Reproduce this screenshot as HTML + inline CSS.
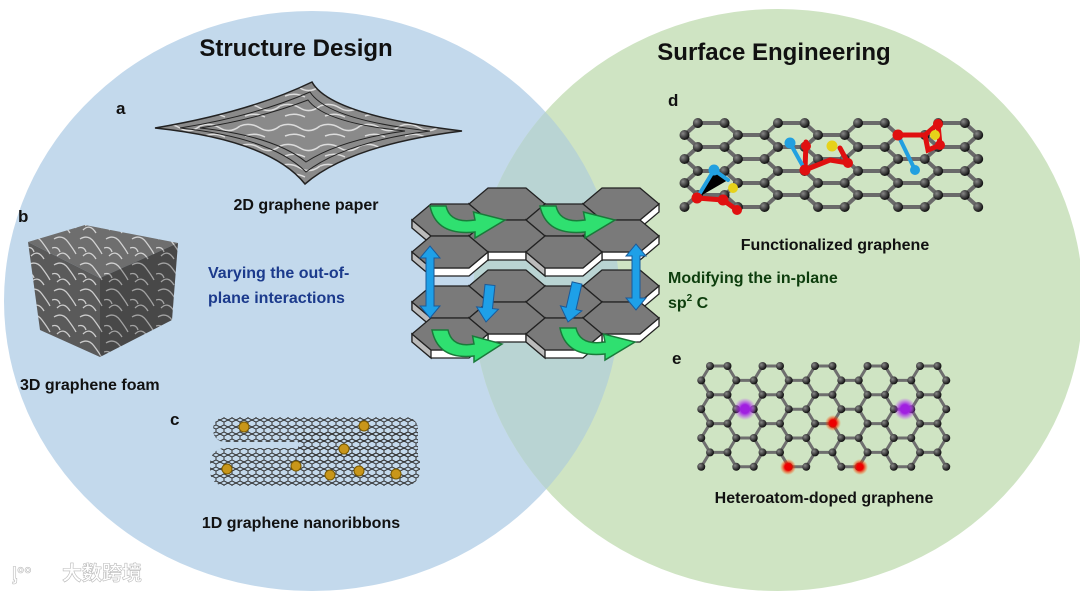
<!DOCTYPE html>
<html><head><meta charset="utf-8"><style>
html,body{margin:0;padding:0;background:#fff}
svg{display:block}
text{font-family:"Liberation Sans",sans-serif;font-weight:bold;fill:#111}
</style></head><body>
<svg id="s" width="1080" height="591" viewBox="0 0 1080 591" xmlns="http://www.w3.org/2000/svg">
<defs>
<radialGradient id="atom" cx="35%" cy="35%" r="65%"><stop offset="0" stop-color="#888"/><stop offset="1" stop-color="#111"/></radialGradient>
<radialGradient id="glowR"><stop offset="0.4" stop-color="#e00"/><stop offset="1" stop-color="#f60" stop-opacity="0"/></radialGradient>
<radialGradient id="glowP"><stop offset="0.4" stop-color="#a020e0"/><stop offset="1" stop-color="#c040ff" stop-opacity="0"/></radialGradient>
<pattern id="tube" width="8" height="7" patternUnits="userSpaceOnUse">
<path d="M0,2 L4,0 L8,2 L8,5 L4,7 L0,5Z" stroke="#333" stroke-width="1" fill="none"/>
</pattern>
<pattern id="foam" width="26" height="26" patternUnits="userSpaceOnUse">
<rect width="26" height="26" fill="#5a5a5a"/>
<path d="M2,5 Q10,0 16,8 T24,20 M5,22 Q12,15 18,25 M0,14 Q6,12 8,18" stroke="#ccc" stroke-width="1.3" fill="none"/>
</pattern>
<pattern id="marble" width="40" height="20" patternUnits="userSpaceOnUse">
<rect width="40" height="20" fill="#8a8a8a"/>
<path d="M0,6 Q10,2 20,8 T40,6 M5,16 Q15,12 25,17" stroke="#ddd" stroke-width="1.5" fill="none"/>
</pattern>
</defs>
<rect width="1080" height="591" fill="#fff"/>
<ellipse cx="312" cy="301" rx="308" ry="290" fill="#c3d9ec"/>
<ellipse cx="778" cy="300" rx="305" ry="291" fill="#cfe4c3"/>
<clipPath id="cl"><ellipse cx="312" cy="301" rx="308" ry="290"/></clipPath>
<ellipse cx="778" cy="300" rx="305" ry="291" fill="#b9d4d3" clip-path="url(#cl)"/>

<text x="296" y="56" font-size="24" text-anchor="middle">Structure Design</text>
<text x="774" y="60" font-size="24" text-anchor="middle">Surface Engineering</text>

<!-- a -->
<text x="116" y="114" font-size="17">a</text>
<path d="M155,128 Q250,112 312,82 Q330,115 462,131 Q350,145 305,184 Q270,140 155,128Z" fill="url(#marble)" stroke="#222" stroke-width="1.5"/>
<path d="M180,128 Q255,116 310,92 Q328,120 430,131 Q345,142 306,172 Q272,138 180,128Z" fill="none" stroke="#222" stroke-width="1"/>
<path d="M200,128 Q258,119 308,100 Q325,123 405,131 Q340,140 306,162 Q274,136 200,128Z" fill="none" stroke="#222" stroke-width="1"/>
<text x="306" y="210" font-size="16" text-anchor="middle">2D graphene paper</text>

<!-- b -->
<text x="18" y="222" font-size="17">b</text>
<polygon points="28,242 85,225 178,243 100,278" fill="url(#foam)"/>
<polygon points="28,242 85,225 178,243 100,278" fill="#fff" opacity=".12"/>
<polygon points="28,242 100,278 100,357 40,330" fill="url(#foam)"/>
<polygon points="100,278 178,243 172,320 100,357" fill="url(#foam)"/>
<polygon points="100,278 178,243 172,320 100,357" fill="#000" opacity=".2"/>
<text x="20" y="390" font-size="16">3D graphene foam</text>

<!-- c -->
<text x="170" y="425" font-size="17">c</text>
<rect x="213" y="417" width="205" height="25" rx="12" fill="url(#tube)"/>
<rect x="210" y="448" width="210" height="38" rx="15" fill="url(#tube)"/>
<rect x="298" y="432" width="120" height="30" fill="url(#tube)"/>
<g fill="#c8961a" stroke="#7a5a00">
<circle cx="244" cy="427" r="5"/><circle cx="364" cy="426" r="5"/><circle cx="344" cy="449" r="5"/><circle cx="296" cy="466" r="5"/>
<circle cx="227" cy="469" r="5"/><circle cx="330" cy="475" r="5"/><circle cx="359" cy="471" r="5"/><circle cx="396" cy="474" r="5"/></g>
<text x="301" y="528" font-size="16" text-anchor="middle">1D graphene nanoribbons</text>

<text x="208" y="278" font-size="16" style="fill:#1b3a8c">Varying the out-of-</text>
<text x="208" y="303" font-size="16" style="fill:#1b3a8c">plane interactions</text>

<g id="stack"></g>

<!-- d -->
<text x="668" y="106" font-size="17">d</text>
<g id="latd"></g>
<g stroke="#e01010" stroke-width="5" fill="none" stroke-linecap="round"><path d="M697,198 L712,178 M697,198 L723,200 L737,210 M806,142 L805,170 M805,170 L830,160 L848,163 L840,148 M898,135 L925,135 L938,124 L940,145 L928,150 L925,135"/></g>
<g stroke="#22a0e0" stroke-width="4" stroke-linecap="round"><path d="M697,198 L714,170 L728,180 M790,143 L805,170 M898,135 L915,170"/></g>
<g fill="#e01010"><circle cx="697" cy="198" r="5.5"/><circle cx="723" cy="200" r="5.5"/><circle cx="737" cy="210" r="5"/><circle cx="806" cy="146" r="5"/><circle cx="805" cy="170" r="5.5"/><circle cx="848" cy="163" r="5"/><circle cx="898" cy="135" r="5.5"/><circle cx="938" cy="124" r="5"/><circle cx="940" cy="145" r="5"/></g>
<g fill="#e6d21a"><circle cx="733" cy="188" r="5"/><circle cx="832" cy="146" r="5.5"/><circle cx="935" cy="135" r="5"/></g>
<g fill="#22a0e0"><circle cx="714" cy="170" r="5.5"/><circle cx="790" cy="143" r="5.5"/><circle cx="915" cy="170" r="5"/></g>
<text x="835" y="250" font-size="16" text-anchor="middle">Functionalized graphene</text>
<text x="668" y="283" font-size="16" style="fill:#0d3d0d">Modifying the in-plane</text>
<text x="668" y="308" font-size="16" style="fill:#0d3d0d">sp<tspan font-size="10" dy="-7">2</tspan><tspan dy="7"> C</tspan></text>

<!-- e -->
<text x="672" y="364" font-size="17">e</text>
<g id="late"></g>
<circle cx="745" cy="409" r="11" fill="url(#glowP)"/><circle cx="905" cy="409" r="11" fill="url(#glowP)"/>
<circle cx="833" cy="423" r="8" fill="url(#glowR)"/><circle cx="788" cy="467" r="8" fill="url(#glowR)"/><circle cx="860" cy="467" r="8" fill="url(#glowR)"/>
<text x="824" y="503" font-size="16" text-anchor="middle">Heteroatom-doped graphene</text>

<text x="62" y="580" font-size="20" style="fill:#fff;font-family:'Liberation Sans','Noto Sans CJK SC',sans-serif" stroke="#bbb" stroke-width=".6">大数跨境</text>
<text x="12" y="580" font-size="18" style="fill:#fff" stroke="#bbb" stroke-width=".6">ᶅ°°</text>
</svg>
<script>
var NS="http://www.w3.org/2000/svg";
function el(p,t,a){var e=document.createElementNS(NS,t);for(var k in a)e.setAttribute(k,a[k]);p.appendChild(e);return e;}
function lattice(g,x0,y0,s,h,rows,xmin,xmax,bw,ar,bc){
  var atoms=[],bonds=[];
  function A(r){return r%2==0?[s/2,1.5*s]:[0,2*s];}
  var P=3*s;
  for(var r=0;r<rows;r++){
    var y=y0+r*h;
    for(var k=-1;k<20;k++){
      var base=x0+k*P, xs=A(r);
      xs.forEach(function(o){var x=base+o; if(x>=xmin-1&&x<=xmax+1)atoms.push([x,y]);});
      var b=r%2==0?[base+s/2,base+1.5*s]:[base+2*s,base+3*s];
      if(b[0]>=xmin-1&&b[1]<=xmax+1)bonds.push([b[0],y,b[1],y]);
      if(r<rows-1){
        var pairs=r%2==0?[[s/2,0],[1.5*s,2*s]]:[[0,s/2],[2*s,1.5*s]];
        pairs.forEach(function(p){var xa=base+p[0],xb=base+p[1];
          if(xa>=xmin-1&&xa<=xmax+1&&xb>=xmin-1&&xb<=xmax+1)bonds.push([xa,y,xb,y+h]);});
      }
    }
  }
  bonds.forEach(function(b){el(g,"line",{x1:b[0],y1:b[1],x2:b[2],y2:b[3],stroke:bc,"stroke-width":bw,"stroke-linecap":"round"});});
  atoms.forEach(function(a){el(g,"circle",{cx:a[0],cy:a[1],r:ar,fill:"url(#atom)"});});
}
lattice(document.getElementById("latd"),684.5,123,26.7,12,8,684,986,4,5,"#6a6a6a");
lattice(document.getElementById("late"),701.25,366,17.5,14.4,8,698,950,3,4,"#6e6e6e");

// stack
var st=document.getElementById("stack");
function hex(cx,cy,top){
  var rx=38,hx=19,hy=16,t=8;
  var side="M"+(cx-rx)+","+cy+" L"+(cx-hx)+","+(cy+hy)+" L"+(cx+hx)+","+(cy+hy)+" L"+(cx+rx)+","+cy+" L"+(cx+rx)+","+(cy+t)+" L"+(cx+hx)+","+(cy+hy+t)+" L"+(cx-hx)+","+(cy+hy+t)+" L"+(cx-rx)+","+(cy+t)+"Z";
  el(st,"path",{d:side,fill:"#fff",stroke:"#222","stroke-width":1.3});
  el(st,"path",{d:"M"+(cx-rx)+","+cy+" L"+(cx-hx)+","+(cy+hy)+" L"+(cx-hx)+","+(cy+hy+t)+" L"+(cx-rx)+","+(cy+t)+"Z",fill:"#bbb",stroke:"#222","stroke-width":1.3});
  el(st,"path",{d:"M"+(cx-rx)+","+cy+" L"+(cx-hx)+","+(cy-hy)+" L"+(cx+hx)+","+(cy-hy)+" L"+(cx+rx)+","+cy+" L"+(cx+hx)+","+(cy+hy)+" L"+(cx-hx)+","+(cy+hy)+"Z",fill:"#7a7a7a",stroke:"#222","stroke-width":1.3});
}
function layer(dy){
  var H=[[507,204+dy],[621,204+dy],[450,220+dy],[564,220+dy],[507,236+dy],[621,236+dy],[450,252+dy],[564,252+dy]];
  H.sort(function(a,b){return a[1]-b[1];});
  H.forEach(function(h){hex(h[0],h[1],1);});
}
layer(82);
// blue arrows between
function dbl(x,y1,y2){
  el(st,"path",{d:"M"+(x-4)+","+(y1+12)+" L"+(x-10)+","+(y1+12)+" L"+x+","+y1+" L"+(x+10)+","+(y1+12)+" L"+(x+4)+","+(y1+12)+" L"+(x+4)+","+(y2-12)+" L"+(x+10)+","+(y2-12)+" L"+x+","+y2+" L"+(x-10)+","+(y2-12)+" L"+(x-4)+","+(y2-12)+"Z",fill:"#1ea0e8",stroke:"#1a5a9a","stroke-width":1});
}
function down(x1,y1,x2,y2){
  var dx=x2-x1,dy=y2-y1,L=Math.sqrt(dx*dx+dy*dy),ux=dx/L,uy=dy/L,px=-uy,py=ux;
  var bx=x2-ux*14,by=y2-uy*14;
  var pts=[[x1+px*5,y1+py*5],[bx+px*5,by+py*5],[bx+px*11,by+py*11],[x2,y2],[bx-px*11,by-py*11],[bx-px*5,by-py*5],[x1-px*5,y1-py*5]];
  el(st,"polygon",{points:pts.map(function(p){return p.join(",")}).join(" "),fill:"#1ea0e8",stroke:"#1a5a9a","stroke-width":1});
}
layer(0);
dbl(430,246,318);dbl(636,244,310);
down(490,285,486,322);down(577,283,568,322);
// green arrows
function garrow(x,y,w,flip){
  var d="M"+x+","+y+" Q"+(x+6)+","+(y+30)+" "+(x+w*0.6)+","+(y+26)+" L"+(x+w*0.6)+","+(y+32)+" L"+(x+w)+","+(y+14)+" L"+(x+w*0.58)+","+(y+6)+" L"+(x+w*0.6)+","+(y+14)+" Q"+(x+20)+","+(y+18)+" "+(x+16)+","+(y)+"Z";
  el(st,"path",{d:d,fill:"#2fe070",stroke:"#1a7a3a","stroke-width":1.5});
}
garrow(430,206,75);garrow(540,206,75);garrow(432,330,70);garrow(560,328,75);
</script>
</body></html>
